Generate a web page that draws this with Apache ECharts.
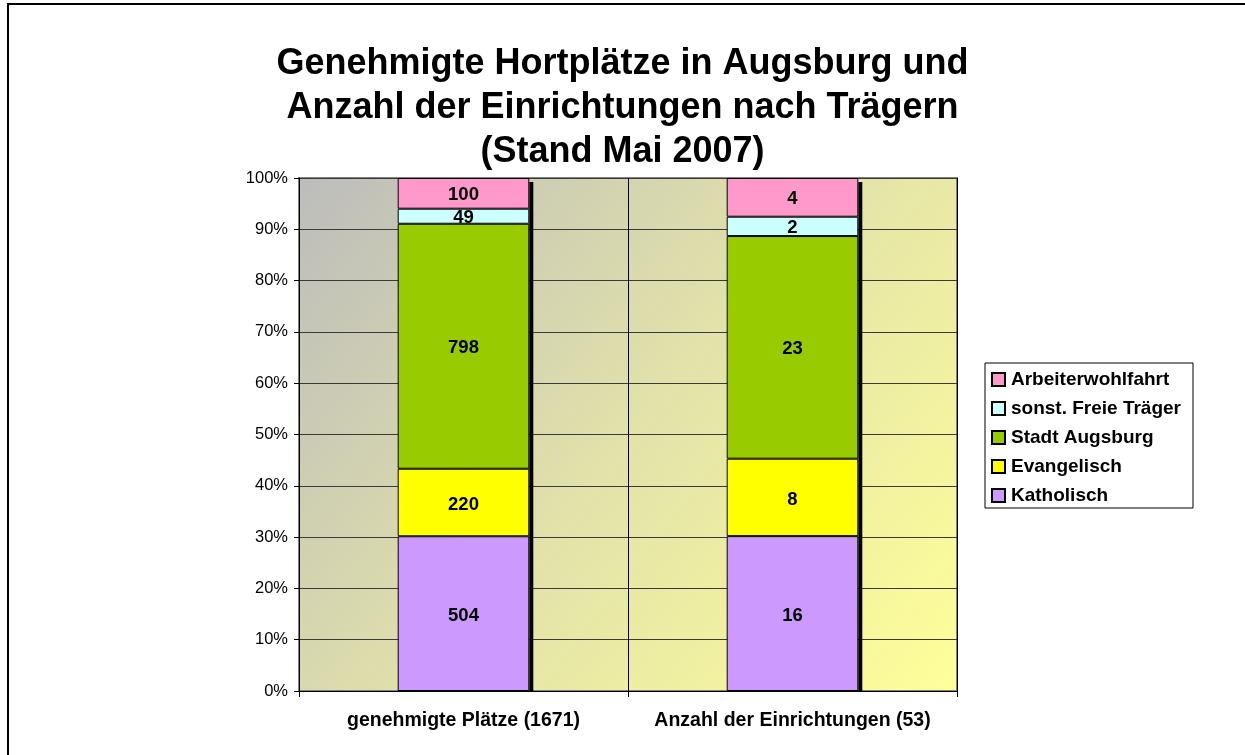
<!DOCTYPE html>
<html>
<head>
<meta charset="utf-8">
<script src="https://cdn.jsdelivr.net/npm/echarts@6/dist/echarts.min.js"></script>
<style>
html,body{margin:0;padding:0;background:#fff;}
#chart{width:1245px;height:755px;}
</style>
</head>
<body>
<div id="chart"></div>
<script>
const categories = ['genehmigte Plätze (1671)', 'Anzahl der Einrichtungen (53)'];
const seriesNames = ['Katholisch', 'Evangelisch', 'Stadt Augsburg', 'sonst. Freie Träger', 'Arbeiterwohlfahrt'];
const katholisch = [504, 16];
const evangelisch = [220, 8];
const stadtAugsburg = [798, 23];
const sonstFreie = [49, 2];
const arbeiterwohlfahrt = [100, 4];
const seriesColors = ['#cc99ff', '#ffff00', '#99cc00', '#ccffff', '#ff99cc'];
const yTicks = [0, 10, 20, 30, 40, 50, 60, 70, 80, 90, 100];

const raw = [katholisch, evangelisch, stadtAugsburg, sonstFreie, arbeiterwohlfahrt];
const totals = categories.map((c, i) => raw.reduce((s, arr) => s + arr[i], 0));

const chart = echarts.init(document.getElementById('chart'));
const font = '"Liberation Sans", Arial, sans-serif';

const barSeries = raw.map((arr, k) => ({
  name: seriesNames[k],
  type: 'bar',
  stack: 'total',
  barWidth: '40%',
  z: 3,
  itemStyle: { color: seriesColors[k], borderColor: '#000', borderWidth: 1 },
  label: {
    show: true, position: 'inside', color: '#000', offset: [0, 2],
    fontFamily: font, fontWeight: 'bold', fontSize: 18.5,
    formatter: p => String(arr[p.dataIndex])
  },
  data: arr.map((v, i) => ({ value: v / totals[i] * 100 }))
}));

const shadowSeries = {
  type: 'custom',
  z: 2,
  silent: true,
  renderItem: function (params, api) {
    const i = api.value(0);
    const top = api.coord([i, api.value(1)]);
    const bottom = api.coord([i, 0]);
    const bw = api.size([1, 0])[0] * 0.4;
    return {
      type: 'rect',
      shape: { x: top[0] + bw / 2, y: top[1] + 4, width: 4, height: bottom[1] - top[1] - 4 },
      style: { fill: '#000' }
    };
  },
  data: categories.map((c, i) => [i, 100])
};

chart.setOption({
  animation: false,
  backgroundColor: '#fff',
  title: {
    text: 'Genehmigte Hortplätze in Augsburg und\nAnzahl der Einrichtungen nach Trägern\n(Stand Mai 2007)',
    left: 'center',
    top: 37,
    textStyle: { fontFamily: font, fontWeight: 'bold', fontSize: 36, lineHeight: 44, color: '#000' }
  },
  legend: {
    orient: 'vertical',
    left: 985,
    top: 363,
    data: seriesNames.slice().reverse(),
    icon: 'rect',
    itemWidth: 13,
    itemHeight: 13,
    itemGap: 10,
    padding: [7, 12, 3, 6],
    borderColor: '#000',
    borderWidth: 1,
    textStyle: { fontFamily: font, fontWeight: 'bold', fontSize: 19, lineHeight: 19, color: '#000', padding: [0, 0, 0, 1] }
  },
  grid: {
    left: 299, right: 288, top: 178, bottom: 64,
    show: true,
    borderColor: '#808080',
    borderWidth: 2,
    backgroundColor: {
      type: 'linear', x: 0, y: 0, x2: 1, y2: 1,
      colorStops: [
        { offset: 0, color: '#bcbcbc' },
        { offset: 0.5, color: '#e2e2aa' },
        { offset: 1, color: '#ffff99' }
      ]
    }
  },
  xAxis: {
    type: 'category',
    data: categories,
    axisLine: { lineStyle: { color: '#000', width: 1 } },
    axisTick: { show: true, interval: 0, alignWithLabel: false, length: 6, lineStyle: { color: '#000' } },
    splitLine: { show: true, interval: 0, lineStyle: { color: '#000', width: 1 } },
    axisLabel: { interval: 0, fontFamily: font, fontWeight: 'bold', fontSize: 19.5, color: '#000', margin: 20 }
  },
  yAxis: {
    type: 'value',
    min: 0, max: 100, interval: 10,
    axisLine: { show: true, lineStyle: { color: '#000' } },
    axisTick: { show: true, length: 5, lineStyle: { color: '#000' } },
    splitLine: { show: true, lineStyle: { color: '#3a3a3a', width: 1 } },
    axisLabel: {
      fontFamily: font, fontSize: 16.5, color: '#000', margin: 11,
      formatter: v => (yTicks.indexOf(v) >= 0 ? v + '%' : '')
    }
  },
  graphic: [
    { type: 'line', shape: { x1: 7, y1: 4, x2: 1245, y2: 4 }, style: { stroke: '#000', lineWidth: 2 }, z: 100 },
    { type: 'line', shape: { x1: 8, y1: 3, x2: 8, y2: 755 }, style: { stroke: '#000', lineWidth: 2 }, z: 100 }
  ],
  series: [shadowSeries].concat(barSeries)
});
</script>
</body>
</html>
